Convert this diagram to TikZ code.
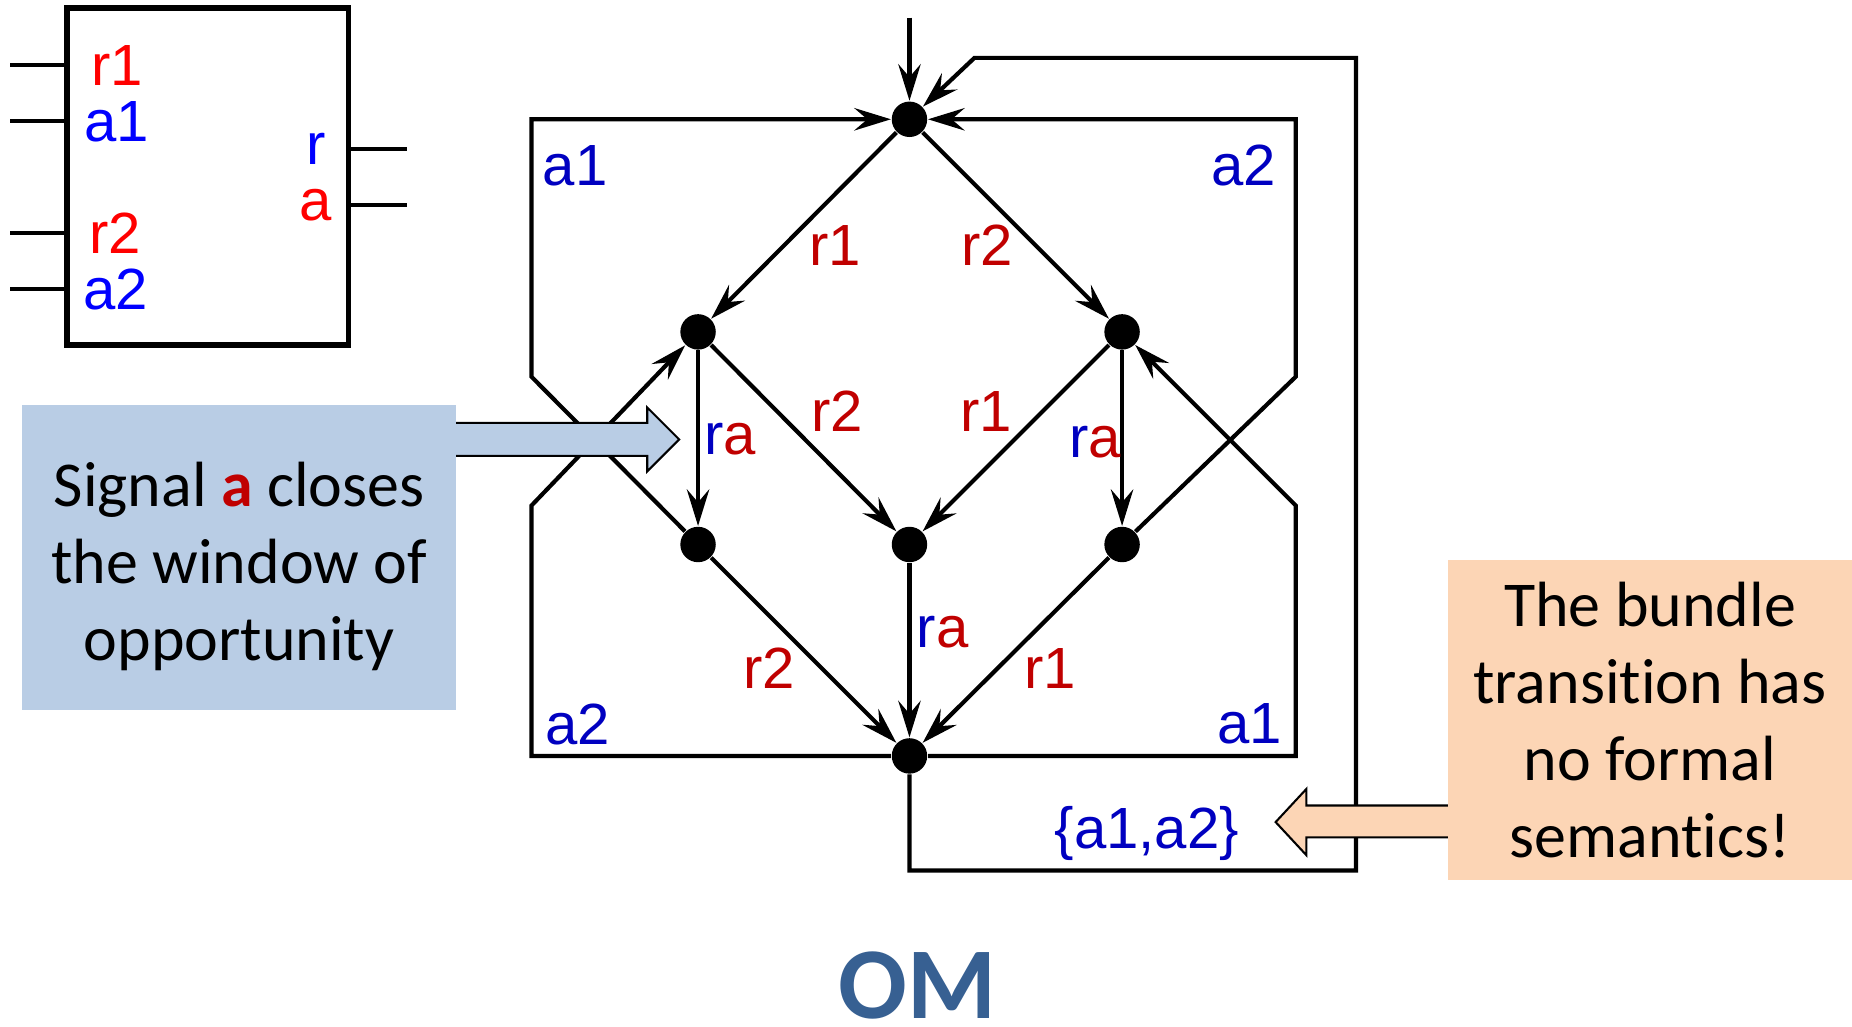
\documentclass[tikz,border=0pt]{standalone}
\usepackage{fontspec}
\setmainfont{Carlito}[Ligatures=NoCommon]
\newfontfamily\arialfont{Liberation Sans}
\usetikzlibrary{arrows.meta, positioning}

\definecolor{sigred}{HTML}{C00000}
\definecolor{sigblue}{HTML}{0000C0}
\definecolor{noteblue}{HTML}{B9CDE5}
\definecolor{noteorange}{HTML}{FCD5B5}
\definecolor{titleblue}{HTML}{376092}

\begin{document}
\begin{tikzpicture}[on grid,
  statedot/.style={circle, fill=black, inner sep=0pt, minimum size=3mm},
  trans/.style={-{Stealth[length=3.1mm, width=1.9mm, inset=1.1mm]}, line width=1pt},
  lbl/.style={font=\arialfont\fontsize{14}{16}\selectfont, inner sep=0pt},
  pin/.style={line width=1pt},
  note/.style={font=\fontsize{15.4}{18.5}\selectfont, align=center, inner sep=0pt}]
  \useasboundingbox (0,0) rectangle (15.68,-8.69);
  % Component
  \node[draw, line width=1.4pt, minimum width=2.385cm, minimum height=2.85cm, inner sep=0pt] (comp) at (1.7575,-1.495) {};
  \foreach \y in {0.55,1.025,1.975,2.447}
    \draw[pin] (0.085,-\y) -- (comp.west |- 0,-\y);
  \foreach \y in {1.26,1.736}
    \draw[pin] (comp.east |- 0,-\y) -- (3.445,-\y);
  \node[lbl, text=red] (pin-r1) at (0.99,-0.556) {r1};
  \node[lbl, text=blue] (pin-a1) at (0.99,-1.03) {a1};
  \node[lbl, text=red] (pin-r2) at (0.974,-1.976) {r2};
  \node[lbl, text=blue] (pin-a2) at (0.98,-2.455) {a2};
  \node[lbl, text=blue] (pin-r) at (2.68,-1.26) {r};
  \node[lbl, text=red] (pin-a) at (2.67,-1.736) {a};
  % States
  \node[statedot] (top) at (7.70,-1.01) {};
  \node[statedot, below left=1.80cm and 1.79cm of top] (l1) {};
  \node[statedot, below right=1.80cm and 1.80cm of top] (r1) {};
  \node[statedot, below=1.80cm of l1] (l2) {};
  \node[statedot, below=3.60cm of top] (c2) {};
  \node[statedot, below=1.80cm of r1] (r2) {};
  \node[statedot, below=5.39cm of top] (bot) {};
  \coordinate (init) at (7.70,-0.15);
  % Transitions
  \draw[trans] (init) -- (top);
  \draw[trans] (top) -- (l1);
  \draw[trans] (top) -- (r1);
  \draw[trans] (l1) -- (l2);
  \draw[trans] (l1) -- (c2);
  \draw[trans] (r1) -- (c2);
  \draw[trans] (r1) -- (r2);
  \draw[trans] (l2) -- (bot);
  \draw[trans] (c2) -- (bot);
  \draw[trans] (r2) -- (bot);
  \draw[trans] (l2) -- (4.50,-3.19) |- (top);
  \draw[trans] (bot) -| (4.50,-4.28) -- (l1);
  \draw[trans] (r2) -- (10.97,-3.19) |- (top);
  \draw[trans] (bot) -| (10.97,-4.28) -- (r1);
  \draw[trans] (bot) |- (11.48,-7.37) |- (8.25,-0.49) -- (top);
  % Labels
  \node[lbl, text=sigred] (lab-top-l1) at (7.07,-2.08) {r1};
  \node[lbl, text=sigred] (lab-top-r1) at (8.36,-2.08) {r2};
  \node[lbl] (lab-l1-l2) at (6.18,-3.72) {\color{sigblue}r\color{sigred}a};
  \node[lbl, text=sigred] (lab-l1-c2) at (7.09,-3.48) {r2};
  \node[lbl, text=sigred] (lab-r1-c2) at (8.35,-3.48) {r1};
  \node[lbl] (lab-r1-r2) at (9.27,-3.74) {\color{sigblue}r\color{sigred}a};
  \node[lbl, text=sigred] (lab-l2-bot) at (6.51,-5.66) {r2};
  \node[lbl] (lab-c2-bot) at (7.98,-5.35) {\color{sigblue}r\color{sigred}a};
  \node[lbl, text=sigred] (lab-r2-bot) at (8.89,-5.66) {r1};
  \node[lbl, text=sigblue] (lab-loop-a1) at (4.87,-1.40) {a1};
  \node[lbl, text=sigblue] (lab-loop-a2) at (10.53,-1.40) {a2};
  \node[lbl, text=sigblue] (lab-back-a2) at (4.89,-6.13) {a2};
  \node[lbl, text=sigblue] (lab-back-a1) at (10.58,-6.13) {a1};
  \node[lbl, text=sigblue] (lab-bundle) at (9.71,-7.06) {\{a1,a2\}};
  % Notes
  \draw[fill=noteblue, line width=0.5pt] (3.86,-3.58) -- (5.48,-3.58) -- (5.48,-3.45) -- (5.75,-3.72)
    -- (5.48,-3.99) -- (5.48,-3.86) -- (3.86,-3.86);
  \node[fill=noteblue, minimum width=3.67cm, minimum height=2.58cm, note] (signal) at (2.025,-4.72)
    {\rule{0pt}{15pt}Signal {\bfseries\color{sigred}a} closes\\the window of\\opportunity};
  \draw[fill=noteorange, line width=0.5pt] (12.26,-6.82) -- (11.06,-6.82) -- (11.06,-6.68) -- (10.80,-6.96)
    -- (11.06,-7.24) -- (11.06,-7.09) -- (12.26,-7.09);
  \node[fill=noteorange, minimum width=3.42cm, minimum height=2.71cm, note] (bundle) at (13.97,-6.095)
    {The bundle\\transition has\\no formal\\semantics!};
  \node[font=\bfseries\fontsize{24.5}{29}\selectfont, text=titleblue, inner sep=0pt] (title) at (7.77,-8.34) {OM};
\end{tikzpicture}
\end{document}
